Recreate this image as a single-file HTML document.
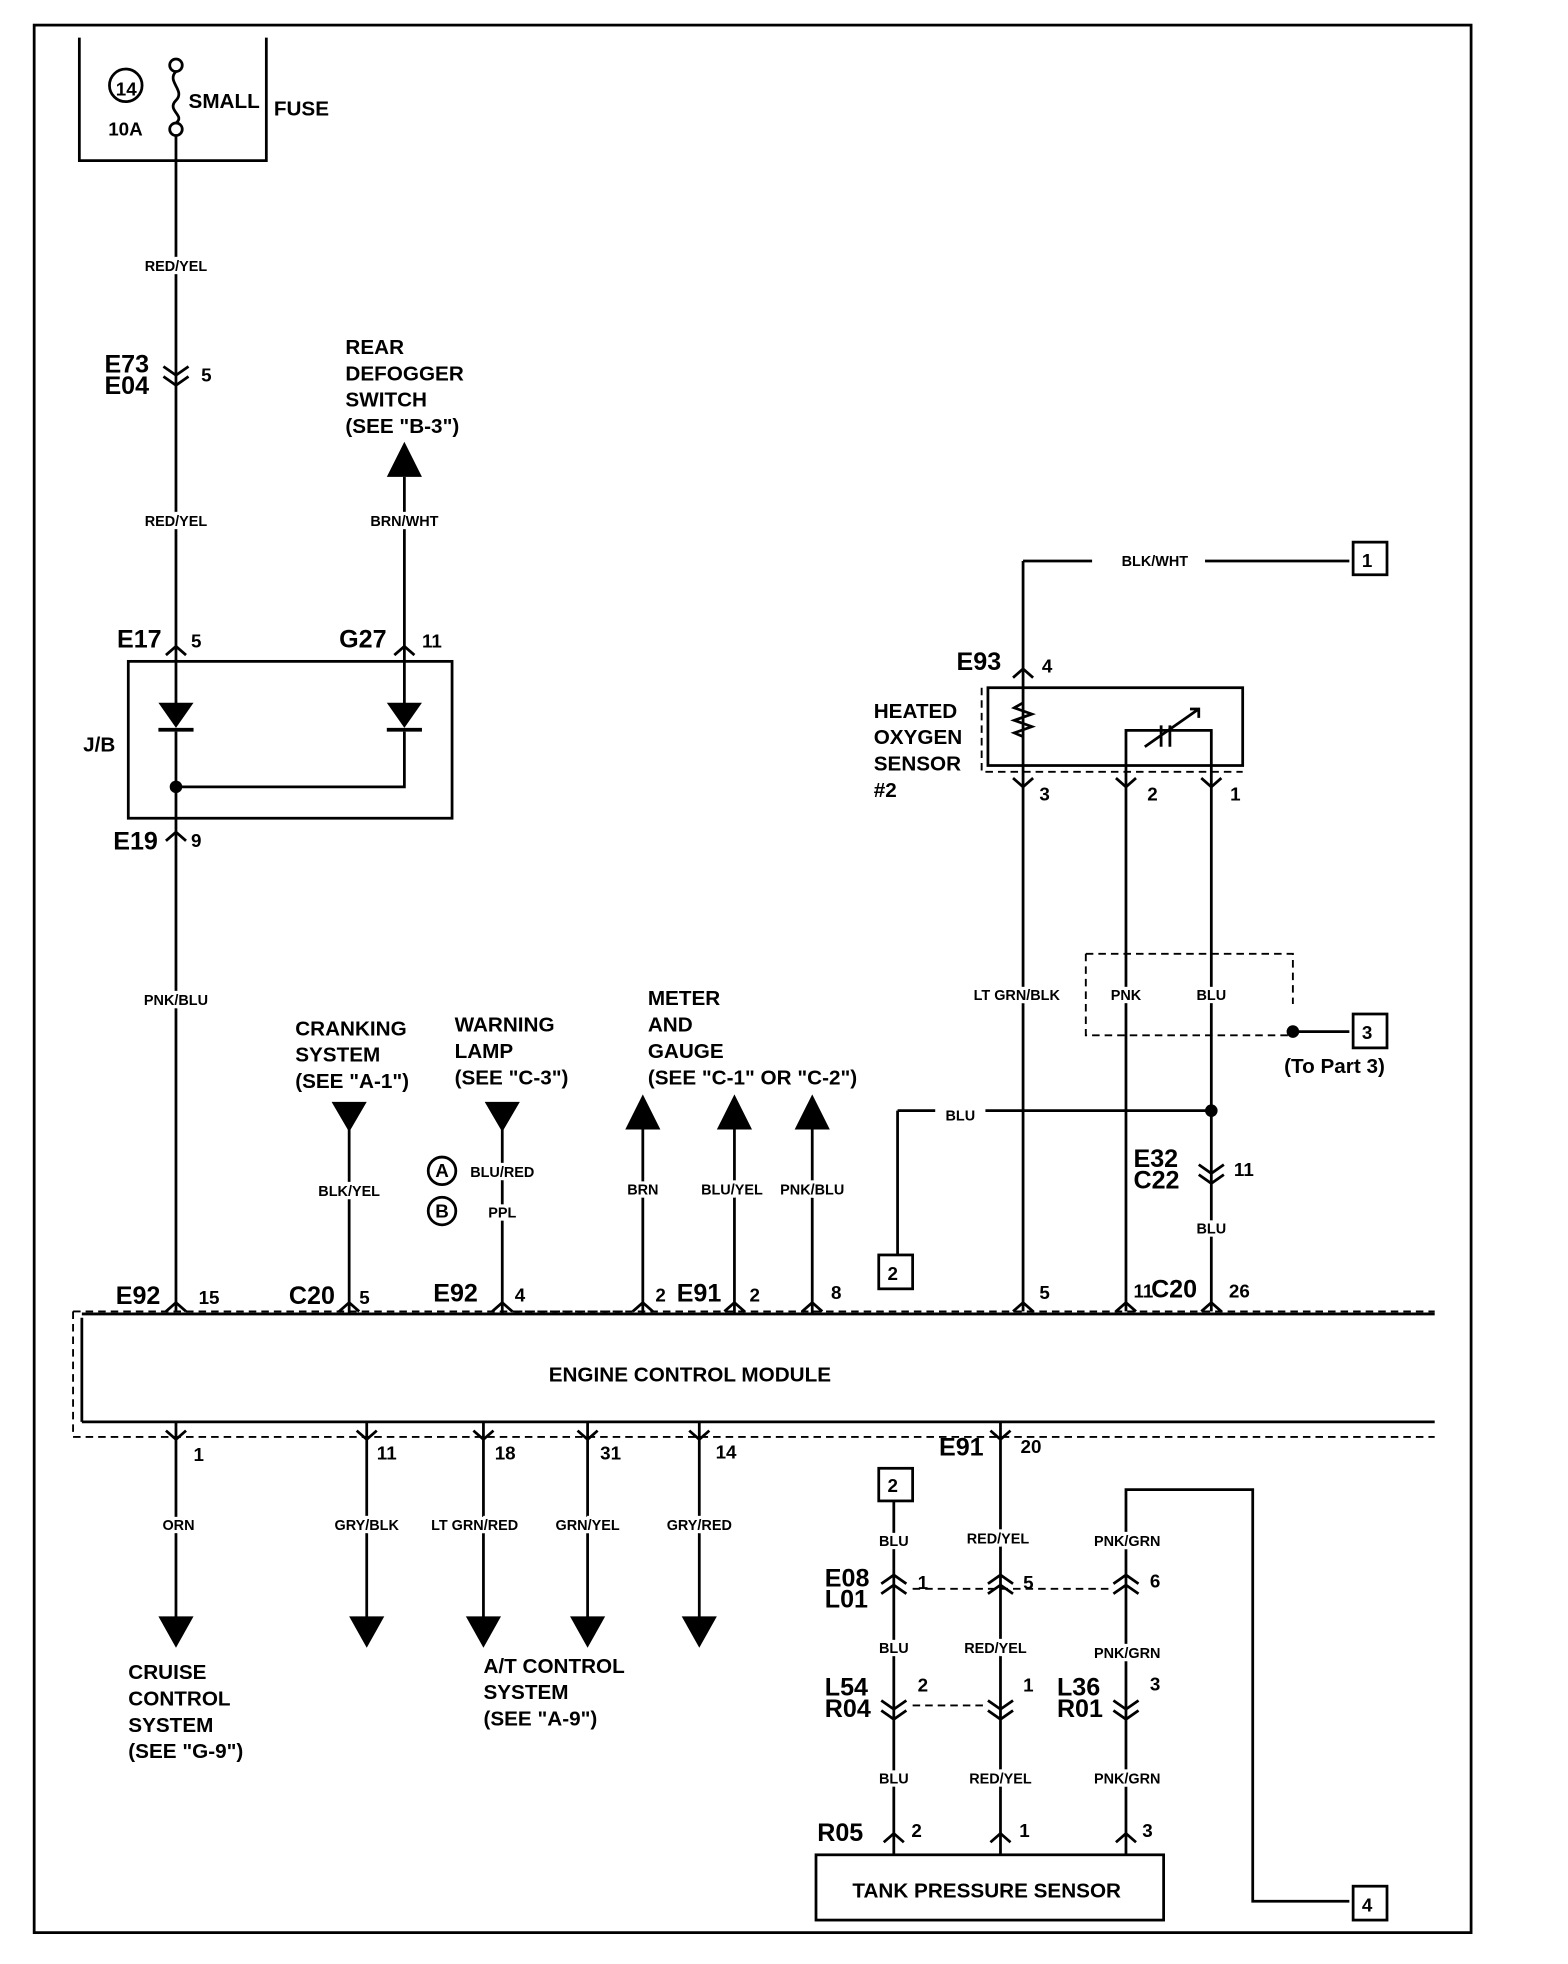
<!DOCTYPE html>
<html><head><meta charset="utf-8"><style>
html,body{margin:0;padding:0;background:#fff;}
svg{display:block;}
text{font-family:"Liberation Sans",sans-serif;fill:#000;font-weight:bold;}
.s{font-size:11.5px;stroke:#fff;stroke-width:5px;paint-order:stroke;}
.m{font-size:16.5px;}
.b{font-size:20px;}
.n{font-size:15px;}
</style></head><body>
<svg width="1568" height="1964" viewBox="0 0 1249 1565" xmlns="http://www.w3.org/2000/svg">
<g fill="none" stroke="#000" stroke-width="2.2">
<rect x="27" y="20" width="1145" height="1520"/>
<path d="M63 30 V128 H212 V30"/>
<circle cx="100" cy="68" r="13"/>
<circle cx="140" cy="52" r="5"/><circle cx="140" cy="103" r="5"/>
<path d="M140 57 C132 65,148 72,140 80 C132 88,148 92,140 98"/>
<path d="M140 108 V570 M140 583 V1045"/>
<rect x="102" y="527" width="258" height="125"/>
<path d="M322 380 V570 M322 583 V627 H140"/>
<path d="M815 447 H1075 M815 447 V1045"/>
<rect x="1078" y="432" width="27" height="26"/>
<rect x="787" y="548" width="203" height="62"/>
<path d="M897 1045 V582 H965 V1045"/>
<path d="M912 595 L955 565 M948 565 H955 V572 M925 578 V595 M932 578 V595"/>
<path d="M815 560 l-7 4 l14 5 l-14 5 l14 5 l-14 5 l7 3"/>
<path d="M715 885 H965 M715 885 V1000"/>
<rect x="700" y="1000" width="27" height="27"/>
<path d="M1030 822 H1075"/>
<rect x="1078" y="808" width="27" height="27"/>
<path d="M65 1047 H1143 M65 1133 H1143 M65 1050 V1133"/>
<path d="M140 1133 V1290 M292 1133 V1290 M385 1133 V1290 M468 1133 V1290 M557 1133 V1290"/>
<path d="M278 900 V1047 M400 900 V1047 M512 900 V1047 M585 900 V1047 M647 900 V1047"/>
<rect x="700" y="1170" width="27" height="26"/>
<path d="M712 1196 V1478 M797 1133 V1478 M897 1478 V1187 H998 V1515 H1075"/>
<rect x="1078" y="1503" width="27" height="27"/>
<rect x="650" y="1478" width="277" height="52"/>
<path d="M132 522 l8 -7 l8 7 M314 522 l8 -7 l8 7 M132 670 l8 -7 l8 7 M807 540 l8 -7 l8 7"/>
<path d="M130 292 l10 7 l10 -7 M130 300 l10 7 l10 -7"/>
<path d="M132 1045 l8 -7 l8 7 M270 1045 l8 -7 l8 7 M392 1045 l8 -7 l8 7 M504 1045 l8 -7 l8 7 M577 1045 l8 -7 l8 7 M639 1045 l8 -7 l8 7 M807 1045 l8 -7 l8 7 M889 1045 l8 -7 l8 7 M957 1045 l8 -7 l8 7"/>
<path d="M132 1140 l8 7 l8 -7 M284 1140 l8 7 l8 -7 M377 1140 l8 7 l8 -7 M460 1140 l8 7 l8 -7 M549 1140 l8 7 l8 -7 M789 1140 l8 7 l8 -7"/>
<path d="M807 620 l8 7 l8 -7 M889 620 l8 7 l8 -7 M957 620 l8 7 l8 -7"/>
<path d="M955 928 l10 7 l10 -7 M955 936 l10 7 l10 -7"/>
<path d="M702 1262 l10 -7 l10 7 M702 1270 l10 -7 l10 7 M787 1262 l10 -7 l10 7 M787 1270 l10 -7 l10 7 M887 1262 l10 -7 l10 7 M887 1270 l10 -7 l10 7"/>
<path d="M702 1355 l10 7 l10 -7 M702 1363 l10 7 l10 -7 M787 1355 l10 7 l10 -7 M787 1363 l10 7 l10 -7 M887 1355 l10 7 l10 -7 M887 1363 l10 7 l10 -7"/>
<path d="M704 1468 l8 -7 l8 7 M789 1468 l8 -7 l8 7 M889 1468 l8 -7 l8 7"/>
<circle cx="352" cy="933" r="11"/><circle cx="352" cy="965" r="11"/>
</g>
<g fill="none" stroke="#000" stroke-width="1.5" stroke-dasharray="6,4">
<path d="M58 1045 V1145 H1143 M58 1045 H1143"/>
<path d="M782 548 V615 H990"/>
<path d="M865 760 H1030 V800 M865 760 V825 H1030"/>
<path d="M727 1266 H887 M727 1359 H787"/>
<path d="M410 1045 H500"/>
</g>
<g fill="#000">
<polygon points="126,560 154,560 140,580"/><rect x="126" y="580" width="28" height="3"/>
<polygon points="308,560 336,560 322,580"/><rect x="308" y="580" width="28" height="3"/>
<circle cx="140" cy="627" r="5"/><circle cx="965" cy="885" r="5"/><circle cx="1030" cy="822" r="5"/>
<polygon points="308,380 336,380 322,352"/>
<polygon points="264,878 292,878 278,902"/><polygon points="386,878 414,878 400,902"/>
<polygon points="498,900 526,900 512,872"/><polygon points="571,900 599,900 585,872"/><polygon points="633,900 661,900 647,872"/>
<polygon points="126,1288 154,1288 140,1313"/><polygon points="278,1288 306,1288 292,1313"/><polygon points="371,1288 399,1288 385,1313"/><polygon points="454,1288 482,1288 468,1313"/><polygon points="543,1288 571,1288 557,1313"/>
</g>
<g fill="#fff"><rect x="870" y="439" width="90" height="16"/><rect x="745" y="878" width="40" height="16"/></g>
<text class="n" x="92" y="76" font-weight="bold">14</text>
<text class="n" x="86" y="108">10A</text>
<text class="m" x="150" y="86">SMALL</text>
<text class="m" x="218" y="92">FUSE</text>
<g class="s" text-anchor="middle">
<text x="140" y="216">RED/YEL</text><text x="140" y="419">RED/YEL</text><text x="322" y="419">BRN/WHT</text>
<text x="140" y="801">PNK/BLU</text><text x="920" y="451">BLK/WHT</text>
<text x="810" y="797">LT GRN/BLK</text><text x="897" y="797">PNK</text><text x="965" y="797">BLU</text>
<text x="765" y="893">BLU</text><text x="965" y="983">BLU</text>
<text x="278" y="953">BLK/YEL</text><text x="400" y="938">BLU/RED</text><text x="400" y="970">PPL</text>
<text x="512" y="952">BRN</text><text x="583" y="952">BLU/YEL</text><text x="647" y="952">PNK/BLU</text>
<text x="142" y="1219">ORN</text><text x="292" y="1219">GRY/BLK</text><text x="378" y="1219">LT GRN/RED</text><text x="468" y="1219">GRN/YEL</text><text x="557" y="1219">GRY/RED</text>
<text x="712" y="1232">BLU</text><text x="795" y="1230">RED/YEL</text><text x="898" y="1232">PNK/GRN</text>
<text x="712" y="1317">BLU</text><text x="793" y="1317">RED/YEL</text><text x="898" y="1321">PNK/GRN</text>
<text x="712" y="1421">BLU</text><text x="797" y="1421">RED/YEL</text><text x="898" y="1421">PNK/GRN</text>
</g>
<text x="352" y="938" class="n" text-anchor="middle">A</text><text x="352" y="970" class="n" text-anchor="middle">B</text>
<g class="b">
<text x="83" y="297">E73</text><text x="83" y="314">E04</text>
<text x="93" y="516">E17</text><text x="270" y="516">G27</text><text x="90" y="677">E19</text>
<text x="762" y="534">E93</text>
<text x="92" y="1039">E92</text><text x="230" y="1039">C20</text><text x="345" y="1037">E92</text><text x="539" y="1037">E91</text><text x="917" y="1034">C20</text>
<text x="903" y="930">E32</text><text x="903" y="947">C22</text>
<text x="748" y="1160">E91</text>
<text x="657" y="1264">E08</text><text x="657" y="1281">L01</text>
<text x="657" y="1351">L54</text><text x="657" y="1368">R04</text>
<text x="842" y="1351">L36</text><text x="842" y="1368">R01</text>
<text x="651" y="1467">R05</text>
</g>
<g class="n">
<text x="160" y="304">5</text><text x="152" y="516">5</text><text x="336" y="516">11</text><text x="152" y="675">9</text>
<text x="830" y="536">4</text><text x="828" y="638">3</text><text x="914" y="638">2</text><text x="980" y="638">1</text>
<text x="158" y="1039">15</text><text x="286" y="1039">5</text><text x="410" y="1037">4</text><text x="522" y="1037">2</text><text x="597" y="1037">2</text><text x="662" y="1035">8</text><text x="828" y="1035">5</text><text x="903" y="1034">11</text><text x="979" y="1034">26</text>
<text x="983" y="937">11</text>
<text x="154" y="1164">1</text><text x="300" y="1163">11</text><text x="394" y="1163">18</text><text x="478" y="1163">31</text><text x="570" y="1162">14</text><text x="813" y="1158">20</text>
<text x="731" y="1266">1</text><text x="815" y="1266">5</text><text x="916" y="1265">6</text>
<text x="731" y="1348">2</text><text x="815" y="1348">1</text><text x="916" y="1347">3</text>
<text x="726" y="1464">2</text><text x="812" y="1464">1</text><text x="910" y="1464">3</text>
<text x="1085" y="452">1</text><text x="1085" y="828">3</text><text x="707" y="1020">2</text><text x="707" y="1189">2</text><text x="1085" y="1523">4</text>
</g>
<g class="m">
<text x="66" y="599">J/B</text>
<text x="275" y="282">REAR</text><text x="275" y="303">DEFOGGER</text><text x="275" y="324">SWITCH</text><text x="275" y="345">(SEE "B-3")</text>
<text x="696" y="572">HEATED</text><text x="696" y="593">OXYGEN</text><text x="696" y="614">SENSOR</text><text x="696" y="635">#2</text>
<text x="235" y="825">CRANKING</text><text x="235" y="846">SYSTEM</text><text x="235" y="867">(SEE "A-1")</text>
<text x="362" y="822">WARNING</text><text x="362" y="843">LAMP</text><text x="362" y="864">(SEE "C-3")</text>
<text x="516" y="801">METER</text><text x="516" y="822">AND</text><text x="516" y="843">GAUGE</text><text x="516" y="864">(SEE "C-1" OR "C-2")</text>
<text x="1023" y="855">(To Part 3)</text>
<text x="437" y="1101">ENGINE CONTROL MODULE</text>
<text x="102" y="1338">CRUISE</text><text x="102" y="1359">CONTROL</text><text x="102" y="1380">SYSTEM</text><text x="102" y="1401">(SEE "G-9")</text>
<text x="385" y="1333">A/T CONTROL</text><text x="385" y="1354">SYSTEM</text><text x="385" y="1375">(SEE "A-9")</text>
<text x="679" y="1512">TANK PRESSURE SENSOR</text>
</g>
</svg>
</body></html>
